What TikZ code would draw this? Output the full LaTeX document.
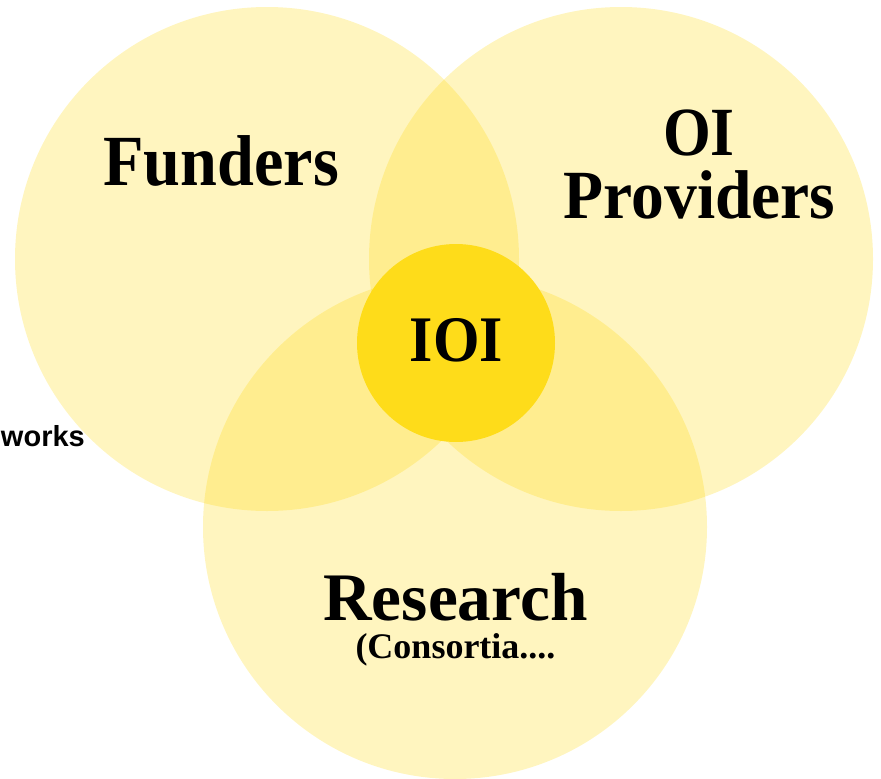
\documentclass[tikz,border=0pt]{standalone}
\usepackage{fontspec}
\usepackage{graphicx}
\newfontfamily\dispfont{Liberation Serif}[BoldFont={* Bold}]
\newfontfamily\labelsans{Liberation Sans}[BoldFont={* Bold}]
\definecolor{venn}{RGB}{255,215,0}
\definecolor{core}{RGB}{254,220,26}
\tikzset{
  venncircle/.style={circle, inner sep=0pt, minimum size=504pt, fill=venn, fill opacity=0.25, draw=none},
  corecircle/.style={circle, inner sep=0pt, minimum size=198pt, fill=core, draw=none},
  disp/.style={anchor=base, inner sep=0pt, text=black},
}
\begin{document}
\begin{tikzpicture}[x=1pt, y=-1pt]
\useasboundingbox (0,0) rectangle (881,779);
\node[venncircle] (funders) at (267,259) {};
\node[venncircle] (providers) at (621,259) {};
\node[venncircle] (research) at (455,527) {};
\node[corecircle] (ioi) at (456,343) {};

\node[disp] (tfunders) at (221,185) {\scalebox{0.92}[1]{\fontsize{72}{72}\dispfont\bfseries Funders}};
\node[disp] (toi) at (699,155) {\scalebox{0.89}[1]{\fontsize{69}{69}\dispfont\bfseries OI}};
\node[disp] (tprov) at (699.5,218) {\scalebox{0.95}[1]{\fontsize{69}{69}\dispfont\bfseries Providers}};
\node[disp] (tioi) at (456.5,361) {\scalebox{0.92}[1]{\fontsize{65}{65}\dispfont\bfseries IOI}};
\node[disp, align=center, font=\fontsize{36}{38}\selectfont\dispfont\bfseries] (tres) at (455.5,658)
  {\scalebox{0.99}[1]{\fontsize{68}{68}\selectfont Research}\\(Consortia....};
\node[anchor=base east, inner sep=0pt] (tworks) at (85,446) {\fontsize{29}{29}\labelsans\bfseries works};
\end{tikzpicture}
\end{document}
